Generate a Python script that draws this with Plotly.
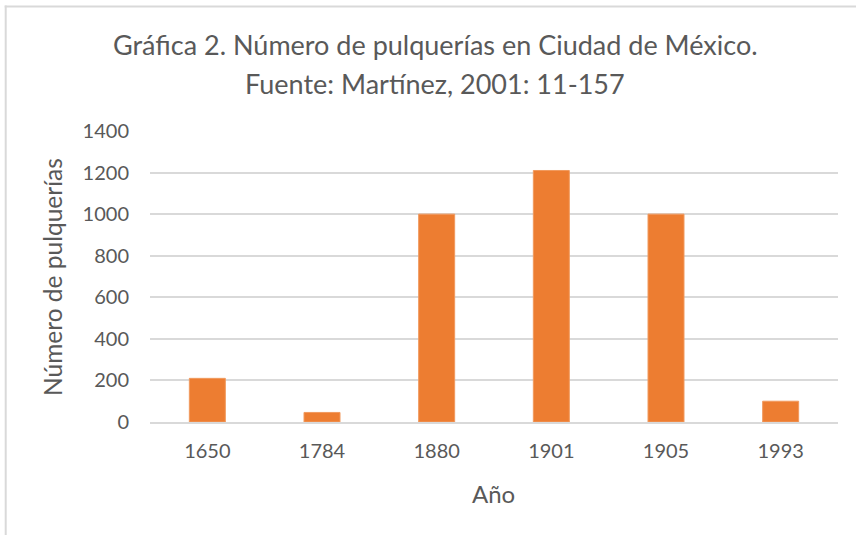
import plotly.graph_objects as go

years = ["1650", "1784", "1880", "1901", "1905", "1993"]
counts = [210, 46, 1000, 1210, 1000, 100]

title_line1 = "Gráfica 2. Número de pulquerías en Ciudad de México."
title_line2 = "Fuente: Martínez, 2001: 11-157"
x_title = "Año"
y_title = "Número de pulquerías"

W, H = 856, 535
L, R, T, B = 150, 18, 131, 113
pw = W - L - R
ph = H - T - B

def px_x(x):
    return (x - L) / pw

def px_y(y):
    return (H - B - y) / ph

txt = "#595959"
font = "Lato"

fig = go.Figure()
fig.add_trace(go.Bar(
    x=years, y=counts,
    marker=dict(color="#ED7D31", line=dict(color="#F19A5E", width=1)),
    hoverinfo="x+y",
))

fig.update_layout(
    width=W, height=H,
    margin=dict(l=L, r=R, t=T, b=B),
    paper_bgcolor="white", plot_bgcolor="white",
    bargap=0.686,
    showlegend=False,
    font=dict(family=font, color=txt),
    xaxis=dict(
        type="category",
        showgrid=False,
        showline=True, linecolor="#D9D9D9", linewidth=2,
        ticks="", tickfont=dict(size=20, color=txt, family=font),
        ticklabelstandoff=10,
    ),
    yaxis=dict(
        range=[0, 1400], dtick=200,
        showgrid=True, gridcolor="#D9D9D9", gridwidth=1.6,
        zeroline=False, showline=False,
        ticks="", tickfont=dict(size=20, color=txt, family=font),
        ticklabelstandoff=20,
    ),
    annotations=[
        dict(text=title_line1, xref="paper", yref="paper",
             x=px_x(435), y=px_y(45), showarrow=False,
             xanchor="center", yanchor="middle",
             font=dict(size=27, color=txt, family=font)),
        dict(text=title_line2, xref="paper", yref="paper",
             x=px_x(435), y=px_y(84), showarrow=False,
             xanchor="center", yanchor="middle",
             font=dict(size=27, color=txt, family=font)),
        dict(text=x_title, xref="paper", yref="paper",
             x=px_x(493), y=px_y(493), showarrow=False,
             xanchor="center", yanchor="middle",
             font=dict(size=24, color=txt, family=font)),
        dict(text=y_title, xref="paper", yref="paper",
             x=px_x(52), y=px_y(277), showarrow=False, textangle=-90,
             xanchor="center", yanchor="middle",
             font=dict(size=24.5, color=txt, family=font)),
    ],
    shapes=[
        dict(type="line", xref="paper", yref="paper",
             x0=px_x(4.7), y0=px_y(6.5), x1=px_x(W + 30), y1=px_y(6.5),
             line=dict(color="#D9D9D9", width=2), layer="above"),
        dict(type="line", xref="paper", yref="paper",
             x0=px_x(5.7), y0=px_y(H + 30), x1=px_x(5.7), y1=px_y(5.5),
             line=dict(color="#D9D9D9", width=2), layer="above"),
    ],
)

fig.write_html("out.html", post_script="document.body.style.margin='0px';",
               config={"displayModeBar": False})
